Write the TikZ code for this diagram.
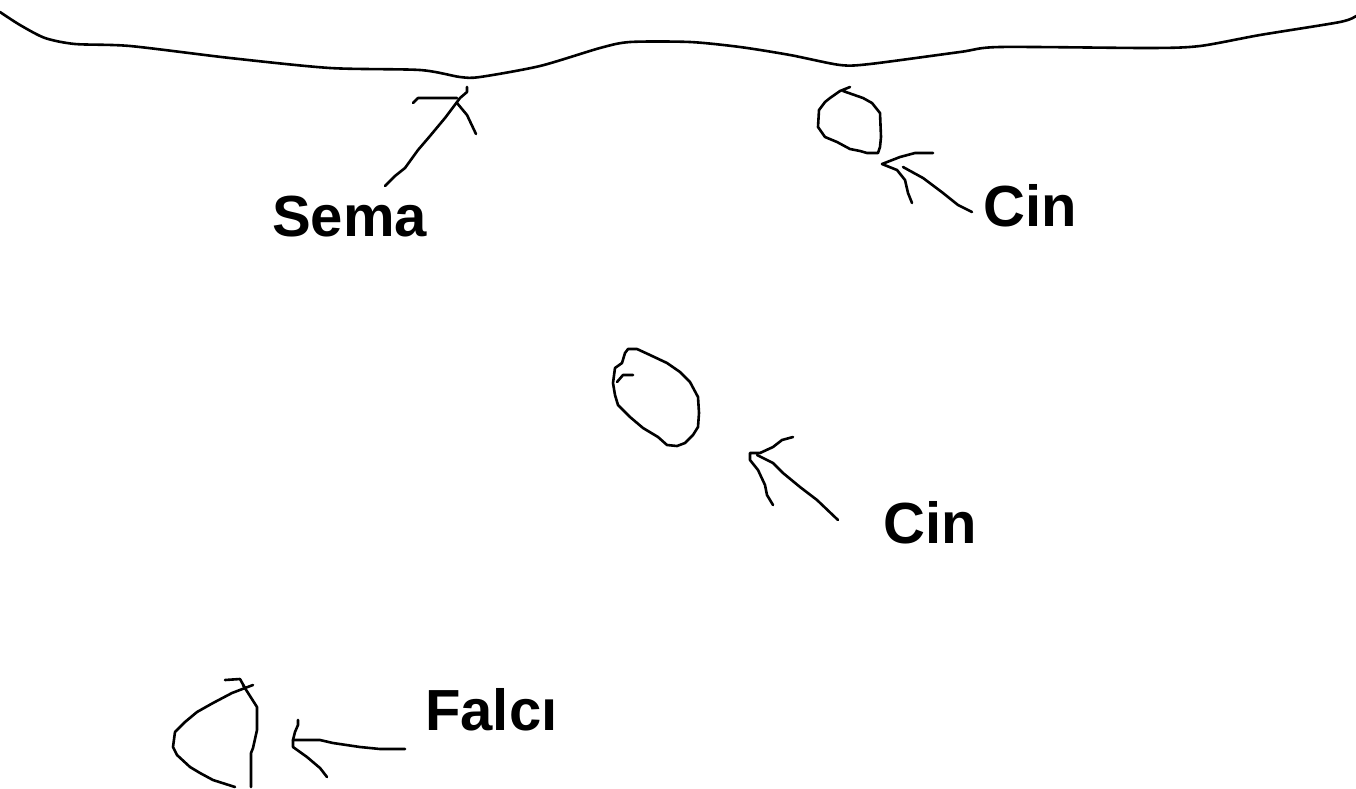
\documentclass[tikz,border=0pt]{standalone}
\usepackage{fontspec}
\setmainfont{Liberation Sans}
\begin{document}
\begin{tikzpicture}[x=1pt,y=-1pt,
  ink/.style={draw=black,line width=2.6pt,line cap=round,line join=round},
  lbl/.style={anchor=base west,inner sep=0pt,font=\fontsize{58}{60}\selectfont\bfseries}]
\useasboundingbox[fill=white] (0,0) rectangle (1356,788);
% sky line
\draw[ink] plot[smooth,tension=0.45] coordinates {(0,12) (20,25) (45,38) (75,44) (130,46) (230,58) (330,68) (420,70) (460,77) (480,77) (540,66) (600,48) (630,42) (690,42) (740,47) (790,55) (840,65) (870,64) (960,52) (1000,47) (1150,48) (1200,46) (1260,35) (1340,22) (1356,16)};
% labels
\node[lbl] (sema) at (272,236) {Sema};
\node[lbl] (cin1) at (983,226) {Cin};
\node[lbl] (cin2) at (883,543) {Cin};
\node[lbl] (falci) at (425,730) {Falcı};
% Sema arrow
\coordinate (semaTip) at (460,98);
\draw[ink] (385,186) -- (395,176) -- (405,168) -- (418,150) -- (430,136) -- (445,118) -- (semaTip) -- (467,92) -- (467,87);
\draw[ink] (413,103) -- (418,98) -- (457,98);
\draw[ink] (457,103) -- (467,115) -- (476,134);
% upper Cin figure and arrow
\draw[ink] (850,87) -- (840,91) -- (830,98) -- (825,102) -- (819,110) -- (818,127) -- (825,137) -- (837,142) -- (850,149) -- (860,151) -- (867,153) -- (878,153) -- (880,147) -- (881,137) -- (880,113) -- (872,103) -- (863,98) -- (843,91);
\coordinate (cin1Tip) at (882,164);
\draw[ink] (933,153) -- (915,153) -- (900,157) -- (cin1Tip) -- (897,170) -- (905,180) -- (908,193) -- (912,203);
\draw[ink] (972,212) -- (958,205) -- (943,193) -- (923,178) -- (903,167);
% middle Cin figure and arrow
\draw[ink] (628,349) -- (637,349) -- (650,355) -- (667,363) -- (680,372) -- (690,382) -- (698,397) -- (699,413) -- (698,427) -- (693,435) -- (685,443) -- (677,446) -- (667,445) -- (658,437) -- (643,428) -- (630,417) -- (618,405) -- (615,395) -- (613,383) -- (615,368) -- (622,363) -- (625,353) -- cycle;
\draw[ink] (633,375) -- (623,375) -- (617,382);
\coordinate (cin2Tip) at (750,453);
\draw[ink] (793,437) -- (782,440) -- (773,447) -- (760,453) -- (cin2Tip) -- (750,460) -- (758,470) -- (765,485) -- (767,495) -- (773,505);
\draw[ink] (838,520) -- (817,500) -- (800,487) -- (783,473) -- (773,463) -- (757,455);
% Falci figure and arrow
\draw[ink] (225,680) -- (240,679) -- (245,688) -- (253,685);
\draw[ink] (245,688) -- (232,693) -- (213,703) -- (197,712) -- (185,722) -- (175,732) -- (173,747) -- (177,755) -- (190,767) -- (200,773) -- (213,780) -- (235,787);
\draw[ink] (243,685) -- (257,707) -- (257,730) -- (253,748) -- (251,753) -- (251,787);
\coordinate (falciTip) at (293,740);
\draw[ink] (298,720) -- (298,725) -- (295,732) -- (falciTip) -- (293,747) -- (307,757) -- (320,768) -- (327,777);
\draw[ink] (falciTip) -- (320,740) -- (333,743) -- (360,747) -- (380,749) -- (405,749);
\end{tikzpicture}
\end{document}
